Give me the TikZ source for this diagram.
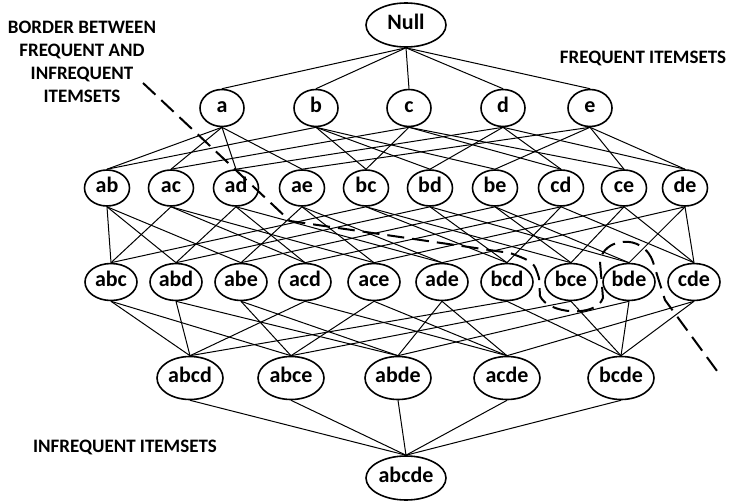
\documentclass[tikz,border=0pt]{standalone}
\usepackage{fontspec}
\setmainfont{Carlito}
\usetikzlibrary{shapes.geometric}

\tikzset{
  set/.style={ellipse,draw,line width=1.6pt,inner sep=0pt,text height=11.5pt,text depth=3pt,
    font=\bfseries\fontsize{22}{22}\selectfont},
  one/.style={set,minimum width=44pt,minimum height=37pt},
  two/.style={set,minimum width=45pt,minimum height=36pt},
  three/.style={set,minimum width=52pt,minimum height=37pt},
  four/.style={set,minimum width=66pt,minimum height=43pt},
  five/.style={set,minimum width=80pt,minimum height=44pt},
  edge/.style={line width=1pt},
  border/.style={line width=2pt,dash pattern=on 17pt off 8pt},
  tag/.style={font=\bfseries\fontsize{19}{23}\selectfont,align=center}
}

\begin{document}
\begin{tikzpicture}[x=1pt,y=-1pt]
\useasboundingbox (0,0) rectangle (729,503);

% the lattice, level by level
\node[five] (null) at (406,25) {Null};
\foreach \n/\x in {a/222,b/316,c/409,d/503,e/590}
  \node[one] (\n) at (\x,108) {\n};
\foreach \n/\x in {ab/107,ac/171,ad/236,ae/302,bc/366,bd/430,be/495,cd/561,ce/624,de/685}
  \node[two] (\n) at (\x,188) {\n};
\foreach \n/\x in {abc/111,abd/176,abe/241,acd/305,ace/374,ade/442,bcd/507,bce/571,bde/629,cde/694}
  \node[three] (\n) at (\x,282) {\n};
\foreach \n/\x in {abcd/190,abce/291,abde/398,acde/507,bcde/621}
  \node[four] (\n) at (\x,378) {\n};
\node[five] (abcde) at (406,478) {abcde};

% subset edges
\foreach \t in {a,b,c,d,e}
  \draw[edge] (null.south) -- (\t.north);
\foreach \t/\ps in {ab/{a,b},ac/{a,c},ad/{a,d},ae/{a,e},bc/{b,c},bd/{b,d},be/{b,e},cd/{c,d},ce/{c,e},de/{d,e}}
  \foreach \p in \ps
    \draw[edge] (\p.south) -- (\t.north);
\foreach \t/\ps in {abc/{ab,ac,bc},abd/{ab,ad,bd},abe/{ab,ae,be},acd/{ac,ad,cd},ace/{ac,ae,ce},
                    ade/{ad,ae,de},bcd/{bc,bd,cd},bce/{bc,be,ce},bde/{bd,be,de},cde/{cd,ce,de}}
  \foreach \p in \ps
    \draw[edge] (\p.south) -- (\t.north);
\foreach \t/\ps in {abcd/{abc,abd,acd,bcd},abce/{abc,abe,ace,bce},abde/{abd,abe,ade,bde},
                    acde/{acd,ace,ade,cde},bcde/{bcd,bce,bde,cde}}
  \foreach \p in \ps
    \draw[edge] (\p.south) -- (\t.north);
\foreach \p in {abcd,abce,abde,acde,bcde}
  \draw[edge] (\p.south) -- (abcde.north);

% border line
\draw[border] (143,83) -- (290,221) -- (510,253) .. controls (534,262) .. (539,278) -- (540,296)
  .. controls (548,314) and (596,318) .. (603,298) -- (600,262)
  .. controls (602,238) and (643,232) .. (653,262) -- (665,300) -- (720,375);

% labels
\node[tag] (borderlabel) at (82,62) {BORDER BETWEEN\\FREQUENT AND\\INFREQUENT\\ITEMSETS};
\node[tag] (freqlabel) at (643,58) {FREQUENT ITEMSETS};
\node[tag] (infreqlabel) at (125,447) {INFREQUENT ITEMSETS};
\end{tikzpicture}
\end{document}
